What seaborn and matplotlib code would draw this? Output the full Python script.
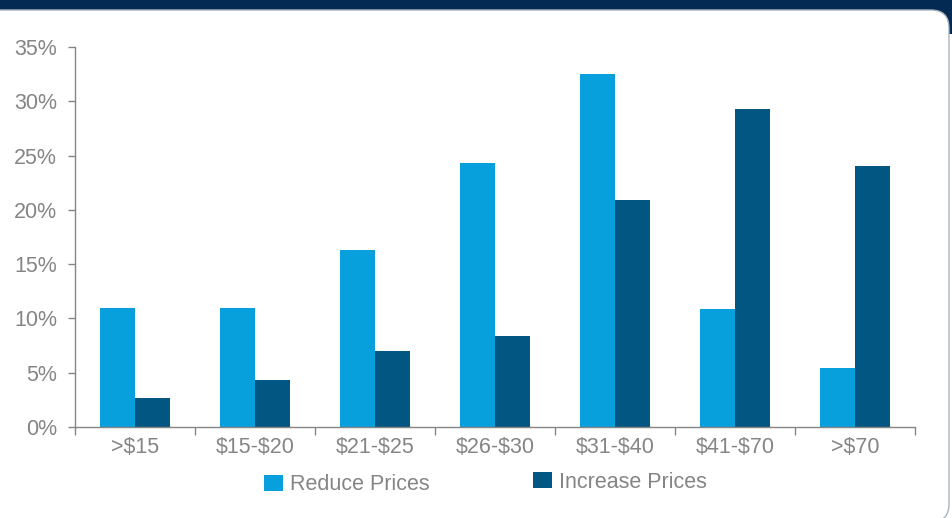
import matplotlib
matplotlib.use("Agg")
import matplotlib.pyplot as plt
from matplotlib.patches import FancyBboxPatch, Rectangle, Patch
from matplotlib.ticker import FixedLocator, PercentFormatter
import pandas as pd
import seaborn as sns

# Price bands and share of respondents (%) for each pricing action
price_bands = [">$15", "$15-$20", "$21-$25", "$26-$30", "$31-$40", "$41-$70", ">$70"]
reduce_prices = [11.0, 11.0, 16.3, 24.3, 32.5, 10.9, 5.4]
increase_prices = [2.7, 4.3, 7.0, 8.4, 20.9, 29.3, 24.0]
series_names = ["Reduce Prices", "Increase Prices"]
y_ticks = [0, 5, 10, 15, 20, 25, 30, 35]

light_blue = "#079fdc"
dark_blue = "#015682"
gray = "#858585"
navy = "#022a52"
FS = 15.5

df = pd.DataFrame({
    "band": price_bands * 2,
    "value": reduce_prices + increase_prices,
    "series": [series_names[0]] * len(price_bands) + [series_names[1]] * len(price_bands),
})

sns.set_theme(style="white")
plt.rcParams["font.family"] = ["Liberation Sans", "DejaVu Sans"]
plt.rcParams["text.parse_math"] = False

W, H = 952, 518
fig = plt.figure(figsize=(W / 100, H / 100), dpi=100)
fig.patch.set_facecolor("white")

# Header band and rounded white card
fig.patches.append(Rectangle((0, 1 - 34 / H), 1, 34 / H, transform=fig.transFigure,
                             facecolor=navy, edgecolor="none", zorder=0))
card = FancyBboxPatch((-30 / W, -4 / H), (30 + 949) / W, (508 + 4) / H,
                      boxstyle="round,pad=0,rounding_size=0.019",
                      transform=fig.transFigure, facecolor="white",
                      edgecolor="#a9b3bd", linewidth=1.0, zorder=1,
                      mutation_aspect=W / H)
fig.patches.append(card)

ax = fig.add_axes([75 / W, 1 - 427 / H, (915 - 75) / W, (427 - 47) / H])
ax.set_facecolor("none")
ax.set_zorder(2)

sns.barplot(data=df, x="band", y="value", hue="series", order=price_bands,
            hue_order=series_names, palette=[light_blue, dark_blue],
            width=0.58, gap=0, saturation=1, ax=ax, legend=False,
            edgecolor="none", linewidth=0)

ax.set_xlim(-0.5, len(price_bands) - 0.5)
ax.set_ylim(0, 35)
ax.set_yticks(y_ticks)
ax.yaxis.set_major_formatter(PercentFormatter(decimals=0))
ax.set_xlabel("")
ax.set_ylabel("")

for side in ["top", "right"]:
    ax.spines[side].set_visible(False)
for side in ["left", "bottom"]:
    ax.spines[side].set_color(gray)
    ax.spines[side].set_linewidth(1.0)

ax.tick_params(axis="y", which="major", left=True, length=5, width=1, color=gray,
               labelcolor=gray, labelsize=FS, pad=8, direction="out")
ax.tick_params(axis="x", which="major", bottom=False, labelcolor=gray,
               labelsize=FS, pad=1.5)
ax.xaxis.set_minor_locator(FixedLocator([i - 0.5 for i in range(len(price_bands) + 1)]))
ax.tick_params(axis="x", which="minor", bottom=True, length=6, width=1, color=gray,
               direction="out")

# Two legend entries, each placed on its own
colors = [light_blue, dark_blue]
anchors = [(264 / W, 1 - 485 / H), (533 / W, 1 - 482 / H)]
for name, color, anchor in zip(series_names, colors, anchors):
    leg = fig.legend([Patch(facecolor=color, edgecolor="none")], [name],
                     loc="center left", bbox_to_anchor=anchor, frameon=False,
                     fontsize=FS, handlelength=0.88, handleheight=0.75,
                     handletextpad=0.33, borderaxespad=0, borderpad=0)
    for t in leg.get_texts():
        t.set_color(gray)
    leg.set_zorder(3)

fig.savefig("out.png", dpi=100, facecolor=fig.get_facecolor())
